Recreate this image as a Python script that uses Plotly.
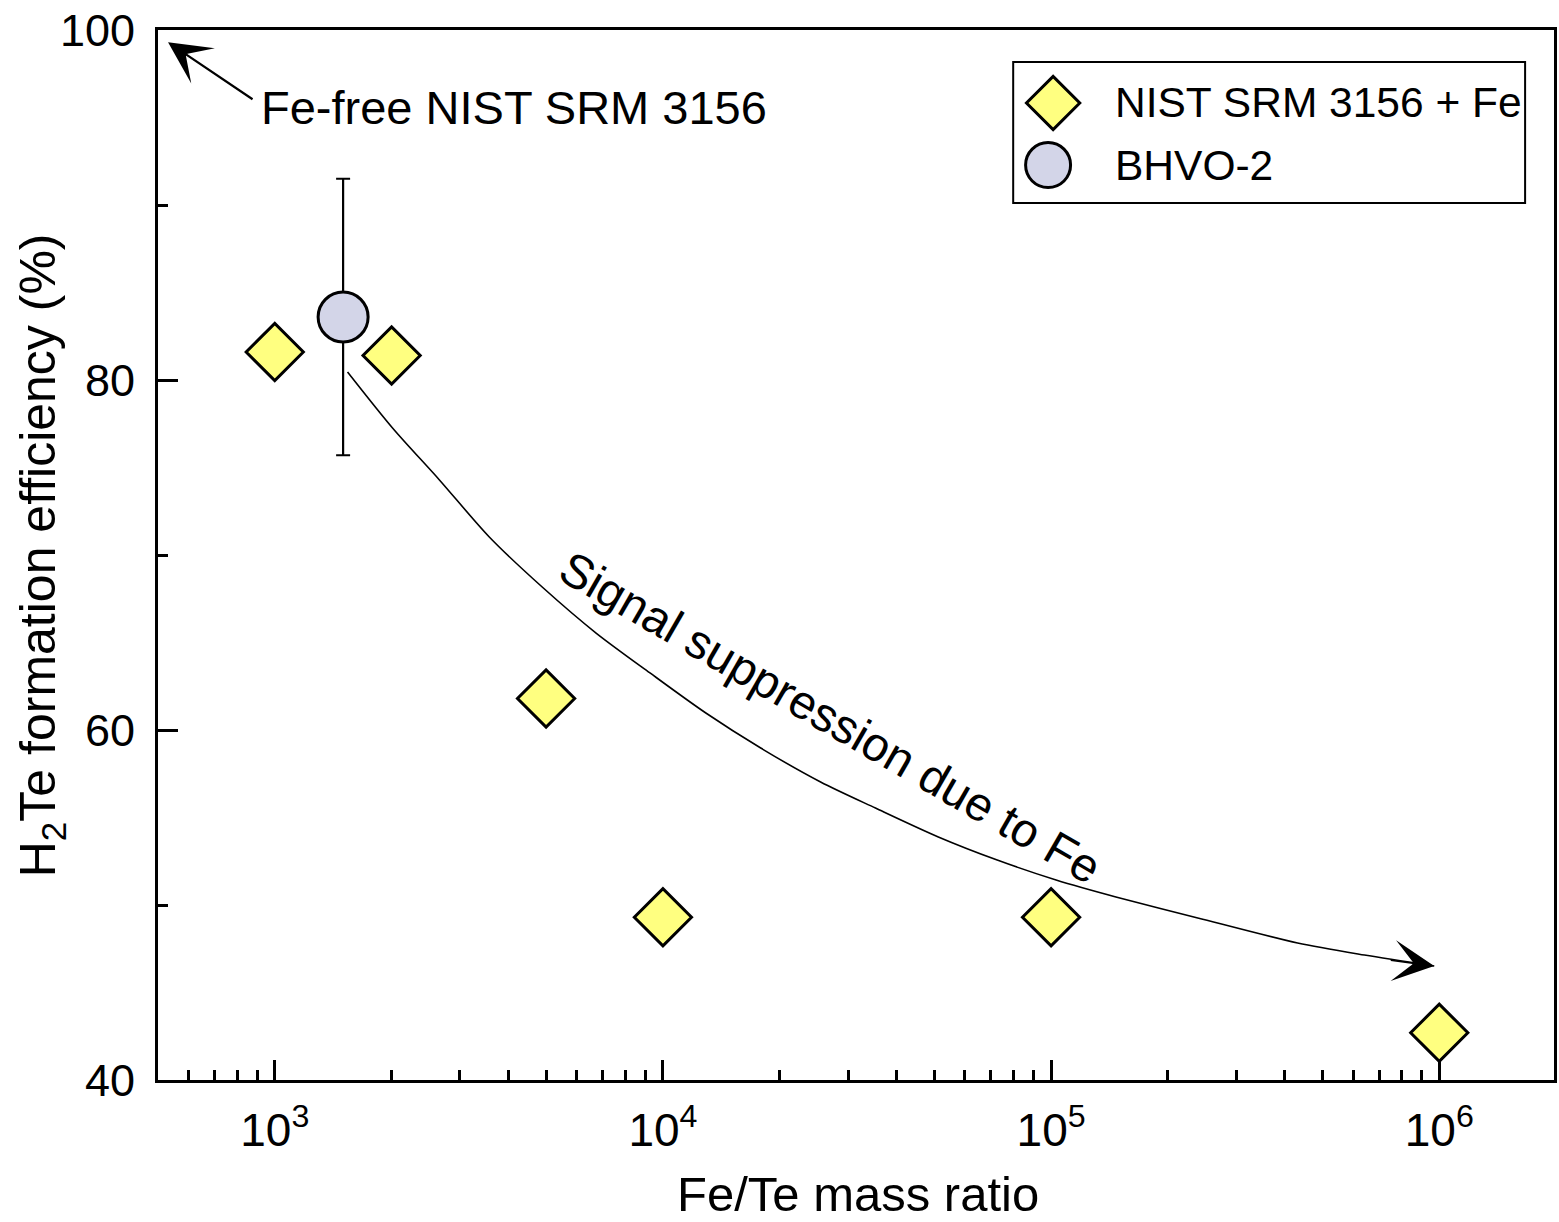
import numpy as np
import plotly.graph_objects as go

# ---------------- data ----------------
fe_te_nist = [1e3, 2e3, 5e3, 1e4, 1e5, 1e6]
eff_nist = [81.6, 81.4, 61.8, 49.3, 49.3, 42.7]

fe_te_bhvo = [1.5e3]
eff_bhvo = [83.6]
err_bhvo = [7.9]

# hand-drawn guide curve "Signal suppression due to Fe"
trend_x = [1540, 2011, 2656, 3570, 4886, 6726, 9260, 12900, 17860, 25480,
           35280, 51220, 72640, 103000, 146900, 238700, 431500, 641500, 970800]
trend_y = [80.46, 77.26, 74.29, 71.03, 68.17, 65.54, 63.26, 60.97, 58.97, 57.03,
           55.54, 53.89, 52.57, 51.43, 50.46, 49.26, 47.83, 47.14, 46.51]

# Fe-free point indicated by arrow
fe_free_x = [531]
fe_free_y = [99.3]

x_tickvals = [1e3, 1e4, 1e5, 1e6]
x_ticktext = ["10<sup>3</sup>", "10<sup>4</sup>", "10<sup>5</sup>", "10<sup>6</sup>"]
x_minorvals = [m * 10 ** k for k in range(2, 7) for m in range(2, 10)]
y_tickvals = [40, 60, 80, 100]

legend_names = ["NIST SRM 3156 + Fe", "BHVO-2"]

FONT = "Liberation Sans, Arial, sans-serif"
YELLOW = "#FFFF80"
LAVENDER = "#D3D5E8"

fig = go.Figure()

# guide curve
fig.add_trace(go.Scatter(
    x=trend_x, y=trend_y, mode="lines",
    line=dict(color="black", width=1.6, shape="spline", smoothing=0.8),
    showlegend=False, hoverinfo="skip"))

# NIST SRM 3156 + Fe
fig.add_trace(go.Scatter(
    x=fe_te_nist, y=eff_nist, mode="markers", name=legend_names[0],
    marker=dict(symbol="diamond", size=44, color=YELLOW,
                line=dict(color="black", width=3)),
    showlegend=False))

# BHVO-2
fig.add_trace(go.Scatter(
    x=fe_te_bhvo, y=eff_bhvo, mode="markers", name=legend_names[1],
    marker=dict(symbol="circle", size=50, color=LAVENDER,
                line=dict(color="black", width=3)),
    error_y=dict(type="data", array=err_bhvo, color="black", thickness=2.2, width=7),
    showlegend=False))

# ---- custom legend (large swatches) on an overlay paper-like axis ----
fig.add_trace(go.Scatter(
    x=[0.6412], y=[0.9305], xaxis="x2", yaxis="y2", mode="markers",
    marker=dict(symbol="diamond", size=41, color=YELLOW, line=dict(color="black", width=3)),
    showlegend=False, hoverinfo="skip"))
fig.add_trace(go.Scatter(
    x=[0.6376], y=[0.8714], xaxis="x2", yaxis="y2", mode="markers",
    marker=dict(symbol="circle", size=45, color=LAVENDER, line=dict(color="black", width=3)),
    showlegend=False, hoverinfo="skip"))

fig.add_shape(type="rect", xref="paper", yref="paper",
              x0=0.6126, x1=0.9793, y0=0.8352, y1=0.9695,
              line=dict(color="black", width=2), fillcolor="rgba(0,0,0,0)", layer="below")

annotations = [
    dict(text=legend_names[0], xref="paper", yref="paper", x=0.6841, y=0.9305,
         xanchor="left", yanchor="middle", showarrow=False,
         font=dict(size=42.5, family=FONT, color="black")),
    dict(text=legend_names[1], xref="paper", yref="paper", x=0.6841, y=0.8714,
         xanchor="left", yanchor="middle", showarrow=False,
         font=dict(size=42.5, family=FONT, color="black")),
    # arrow to Fe-free point
    dict(x=np.log10(fe_free_x[0]), y=fe_free_y[0], xref="x", yref="y", text="",
         showarrow=True, arrowhead=3, arrowsize=3.2, arrowwidth=2.2, arrowcolor="black",
         ax=86, ay=58, standoff=0),
    dict(text="Fe-free NIST SRM 3156", xref="paper", yref="paper",
         x=(259 - 158) / 1399, y=(1080 - 107) / 1050, xanchor="left", yanchor="middle",
         showarrow=False, font=dict(size=47, family=FONT, color="black")),
    # arrowhead at end of guide curve
    dict(x=np.log10(trend_x[-1]), y=trend_y[-1], xref="x", yref="y", text="",
         showarrow=True, arrowhead=3, arrowsize=4.3, arrowwidth=1.6, arrowcolor="black",
         ax=-45, ay=-6, standoff=0),
    dict(text="Signal suppression due to Fe", xref="paper", yref="paper",
         x=(832 - 158) / 1399, y=(1080 - 717) / 1050, xanchor="center", yanchor="middle",
         textangle=30, showarrow=False, font=dict(size=47.5, family=FONT, color="black")),
    # axis titles
    dict(text="Fe/Te mass ratio", xref="paper", yref="paper",
         x=(860 - 158) / 1399, y=(1080 - 1194) / 1050, xanchor="center", yanchor="middle",
         showarrow=False, font=dict(size=49, family=FONT, color="black")),
    dict(text="H<sub>2</sub>Te formation efficiency (%)", xref="paper", yref="paper",
         x=(41 - 158) / 1399, y=0.5, xanchor="center", yanchor="middle", textangle=-90,
         showarrow=False, font=dict(size=50, family=FONT, color="black")),
]

fig.update_layout(
    width=1559, height=1222, autosize=False,
    margin=dict(l=158, r=2, t=30, b=142),
    paper_bgcolor="white", plot_bgcolor="white",
    font=dict(family=FONT, color="black"),
    showlegend=False,
    annotations=annotations,
    xaxis=dict(
        type="log", range=[2.6992, 6.2956],
        showline=True, linecolor="black", linewidth=3, mirror=True,
        showgrid=False, zeroline=False,
        tickmode="array", tickvals=x_tickvals, ticktext=x_ticktext,
        ticks="inside", ticklen=20, tickwidth=2.5, tickcolor="black",
        ticklabelstandoff=8,
        tickfont=dict(size=46, family=FONT, color="black"),
        minor=dict(tickmode="array", tickvals=x_minorvals, ticks="inside",
                   ticklen=10, tickwidth=2.5, tickcolor="black", showgrid=False),
    ),
    yaxis=dict(
        range=[40, 100],
        showline=True, linecolor="black", linewidth=3, mirror=True,
        showgrid=False, zeroline=False,
        tickmode="array", tickvals=y_tickvals,
        ticks="inside", ticklen=20, tickwidth=2.5, tickcolor="black",
        ticklabelstandoff=11,
        tickfont=dict(size=45, family=FONT, color="black"),
        minor=dict(dtick=10, ticks="inside", ticklen=10, tickwidth=2.5,
                   tickcolor="black", showgrid=False),
    ),
    xaxis2=dict(overlaying="x", range=[0, 1], visible=False, fixedrange=True),
    yaxis2=dict(overlaying="y", range=[0, 1], visible=False, fixedrange=True),
)

fig.write_html("out.html", config={"displayModeBar": False},
               post_script="document.body.style.margin='0px';document.body.style.overflow='hidden';")
